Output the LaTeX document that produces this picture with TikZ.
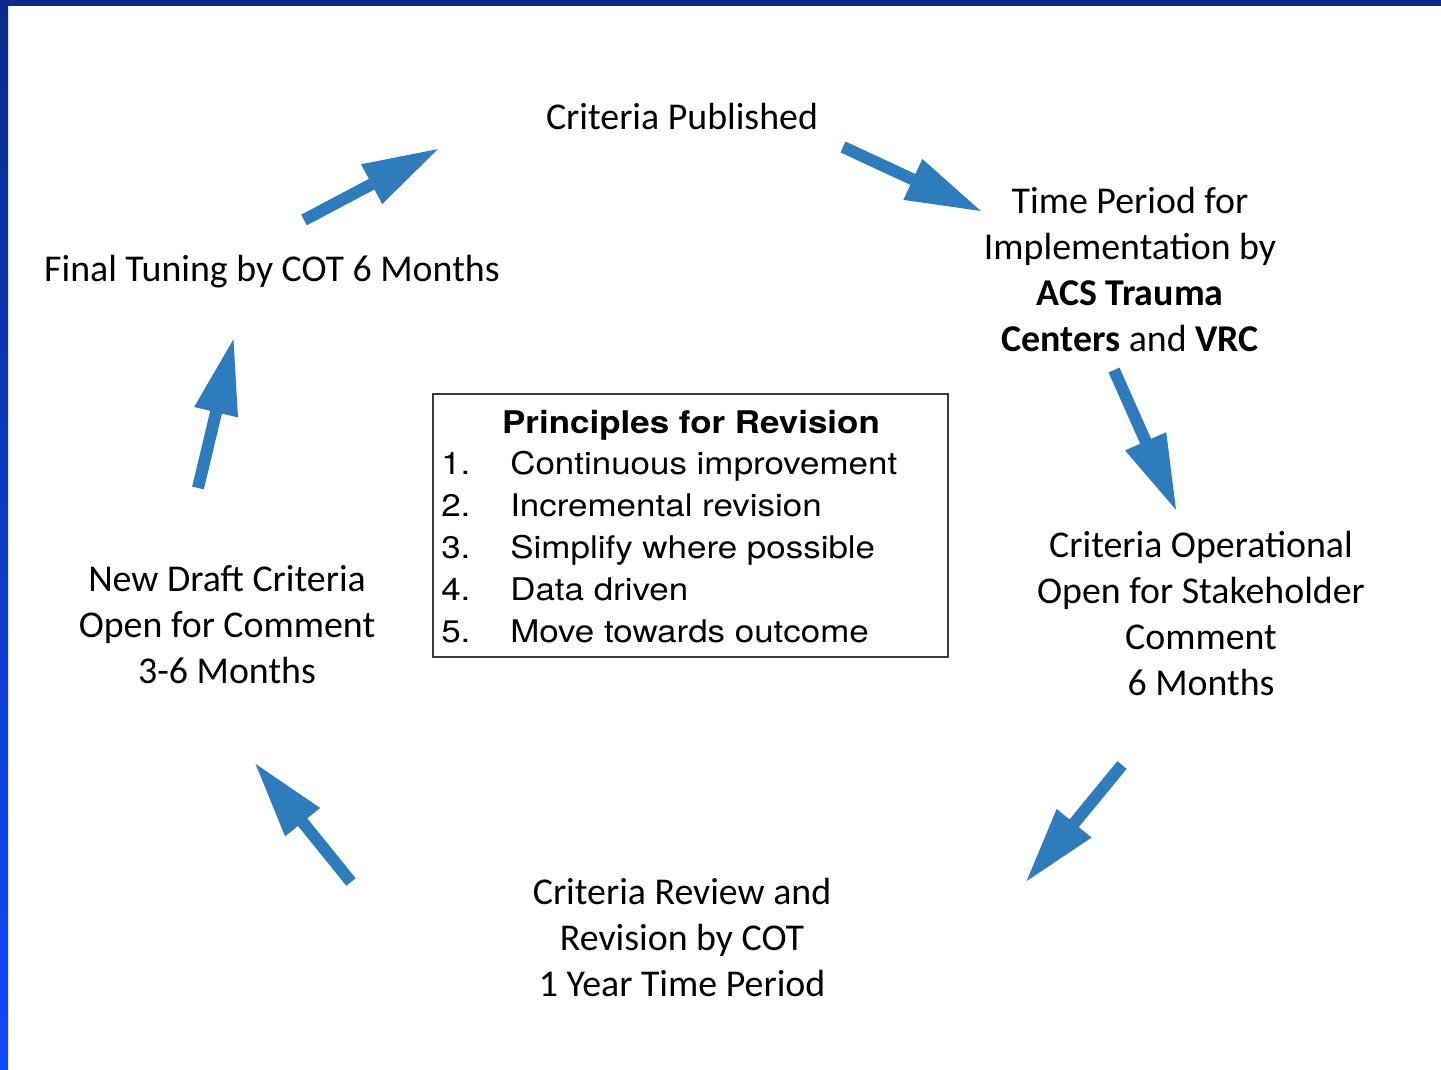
\documentclass[tikz,border=0pt]{standalone}
\usepackage{fontspec}
\setmainfont{Carlito}
\newfontfamily\helv{TeX Gyre Heros}[FakeStretch=1.12]
\usetikzlibrary{arrows.meta}
\definecolor{frameblue}{RGB}{10,43,140}
\definecolor{framebright}{RGB}{16,72,255}
\definecolor{flowblue}{RGB}{47,124,188}
\definecolor{boxline}{RGB}{60,60,60}
\begin{document}
\begin{tikzpicture}[x=0.75pt,y=-0.75pt,
  lbl/.style={font=\fontsize{28.4}{34.5}\selectfont, align=center, inner sep=0pt},
  itemnum/.style={font=\helv\fontsize{23.4}{26}\selectfont, anchor=base west, inner sep=0pt},
  itemtxt/.style={font=\helv\fontsize{23.4}{26}\selectfont, anchor=base west, inner sep=0pt},
  boxtitle/.style={font=\helv\bfseries\fontsize{23.4}{26}\selectfont, anchor=base, inner sep=0pt},
  flow/.style={draw=flowblue, line width=9pt, -{Triangle[length=58pt,width=31pt]}}]
% page and frame
\useasboundingbox (0,0) rectangle (1441,1070);
\fill[white] (0,0) rectangle (1441,1070);
\shade[top color=frameblue, bottom color=framebright] (0,0) rectangle (8,1070);
\fill[frameblue] (0,0) rectangle (1441,6);

% stages of the cycle
\node[lbl] (pub) at (682,116) {Criteria Published};
\node[lbl] (impl) at (1130,269) {Time Period for\\Implementation by\\\textbf{ACS Trauma}\\\textbf{Centers} and \textbf{VRC}};
\node[lbl] (oper) at (1201,613) {Criteria Operational\\Open for Stakeholder\\Comment\\6 Months};
\node[lbl] (review) at (682,937) {Criteria Review and\\Revision by COT\\1 Year Time Period};
\node[lbl] (draft) at (227,625) {New Draft Criteria\\Open for Comment\\3-6 Months};
\node[lbl] (tuning) at (272,272) {Final Tuning by COT 6 Months};

% principles box
\node[draw=boxline, line width=1.1pt, minimum width=386.25pt, minimum height=197.25pt, inner sep=0pt] (principles) at (690.5,525.5) {};
\node[boxtitle] (ptitle) at (691,433) {Principles for Revision};
\node[itemnum] (n1) at (441,474) {1.};
\node[itemnum] (n2) at (441,516) {2.};
\node[itemnum] (n3) at (441,558) {3.};
\node[itemnum] (n4) at (441,600) {4.};
\node[itemnum] (n5) at (441,642) {5.};
\node[itemtxt] (t1) at (510,474) {Continuous improvement};
\node[itemtxt] (t2) at (510,516) {Incremental revision};
\node[itemtxt] (t3) at (510,558) {Simplify where possible};
\node[itemtxt] (t4) at (510,600) {Data driven};
\node[itemtxt] (t5) at (510,642) {Move towards outcome};

% arrows between the stages
\coordinate (a1s) at (304,220);
\coordinate (a1e) at (440,148);
\coordinate (a2s) at (843,147);
\coordinate (a2e) at (983,212);
\coordinate (a3s) at (1114,370);
\coordinate (a3e) at (1177,512);
\coordinate (a4s) at (1122,765);
\coordinate (a4e) at (1025,883);
\coordinate (a5s) at (351,882);
\coordinate (a5e) at (254,762);
\coordinate (a6s) at (198,488);
\coordinate (a6e) at (234,337);
\draw[flow] (a1s) -- (a1e);
\draw[flow] (a2s) -- (a2e);
\draw[flow] (a3s) -- (a3e);
\draw[flow] (a4s) -- (a4e);
\draw[flow] (a5s) -- (a5e);
\draw[flow] (a6s) -- (a6e);
\end{tikzpicture}
\end{document}
